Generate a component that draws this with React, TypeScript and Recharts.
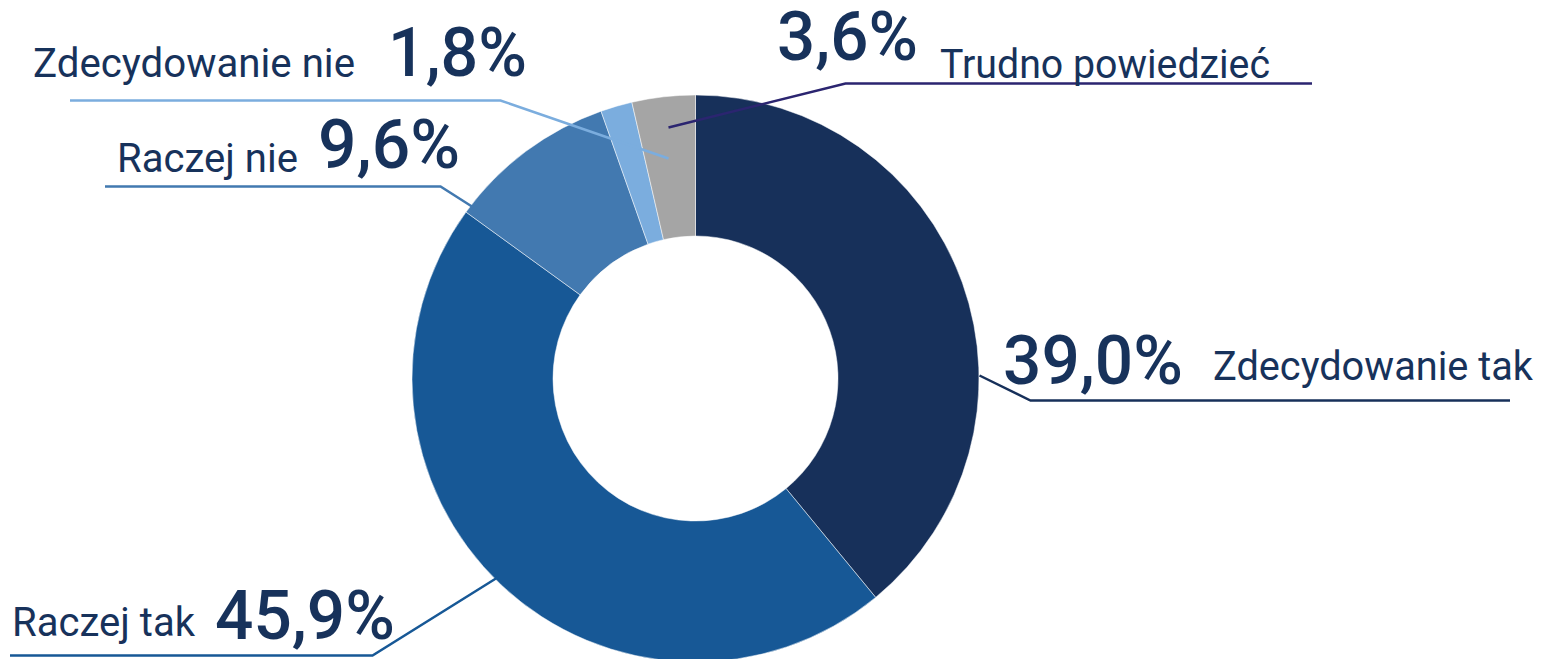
import React from "react";
import { PieChart, Pie, Cell } from "recharts";

const categories = ["Zdecydowanie tak", "Raczej tak", "Raczej nie", "Zdecydowanie nie", "Trudno powiedzieć"];
const values = [39.0, 45.9, 9.6, 1.8, 3.6];
const colors = ["#17305A", "#175896", "#4279B0", "#7BADDE", "#A5A5A5"];
const lineColors = ["#17305A", "#175896", "#4279B0", "#7BADDE", "#2B2570"];

const data = categories.map((name, i) => ({ name, value: values[i] }));

const TEXT = "#17325B";
const CX = 695.5;
const CY = 378.5;

// label layout (offsets relative to pie centre): anchor, elbow, line end x, text positions/widths
type Layout = {
  ax: number; ay: number; ex: number; ey: number; endX: number;
  nameX: number; nameY: number; nameW: number;
  valX: number; valY: number; valW: number;
};
const labelLayout: Record<string, Layout> = {
  "Zdecydowanie tak": { ax: 284, ay: -3, ex: 335, ey: 22, endX: 1510, nameX: 1213, nameY: 380, nameW: 320, valX: 1003, valY: 384, valW: 180 },
  "Raczej tak": { ax: -198, ay: 199, ex: -323, ey: 277, endX: 10, nameX: 12, nameY: 636, nameW: 183, valX: 215, valY: 639, valW: 180 },
  "Raczej nie": { ax: -222, ay: -171, ex: -255, ey: -192, endX: 105, nameX: 117, nameY: 172, nameW: 181, valX: 318, valY: 168, valW: 142 },
  "Zdecydowanie nie": { ax: -27, ay: -220, ex: -195, ey: -278, endX: 70, nameX: 33, nameY: 77, nameW: 322, valX: 388, valY: 76, valW: 139 },
  "Trudno powiedzieć": { ax: -27, ay: -251, ex: 150, ey: -295, endX: 1312, nameX: 940, nameY: 78, nameW: 330, valX: 777, valY: 60, valW: 141 },
};

const fmt = (v: number) => v.toFixed(1).replace(".", ",") + "%";

const renderLabel = (props: any) => {
  const { cx, cy, name, value } = props;
  const idx = categories.indexOf(name);
  const L = labelLayout[name];
  if (!L) return null;
  const ax = cx + L.ax, ay = cy + L.ay, ex = cx + L.ex, ey = cy + L.ey;
  return (
    <g key={name}>
      <polyline
        points={`${ax},${ay} ${ex},${ey} ${L.endX},${ey}`}
        fill="none"
        stroke={lineColors[idx]}
        strokeWidth={2.5}
      />
      <text
        x={L.nameX}
        y={L.nameY}
        fill={TEXT}
        fontFamily="Roboto, 'Noto Sans', sans-serif"
        fontSize={40}
        textLength={L.nameW}
        lengthAdjust="spacingAndGlyphs"
      >
        {name}
      </text>
      <text
        x={L.valX}
        y={L.valY}
        fill={TEXT}
        fontFamily="Roboto, 'Noto Sans', sans-serif"
        fontWeight={500}
        fontSize={68}
        textLength={L.valW}
        lengthAdjust="spacingAndGlyphs"
      >
        {fmt(value)}
      </text>
    </g>
  );
};

export default function App() {
  return (
    <div style={{ position: "absolute", left: 0, top: 0, width: 1543, height: 659, background: "#fff", overflow: "hidden" }}>
      <PieChart width={1543} height={659} margin={{ top: 0, right: 0, bottom: 0, left: 0 }}>
        <Pie
          data={data}
          dataKey="value"
          nameKey="name"
          cx={CX}
          cy={CY}
          innerRadius={142.5}
          outerRadius={283.5}
          startAngle={90}
          endAngle={-270}
          stroke="#ffffff"
          strokeWidth={0.5}
          isAnimationActive={false}
          labelLine={false}
          label={renderLabel}
        >
          {data.map((d, i) => (
            <Cell key={d.name} fill={colors[i]} />
          ))}
        </Pie>
      </PieChart>
    </div>
  );
}
